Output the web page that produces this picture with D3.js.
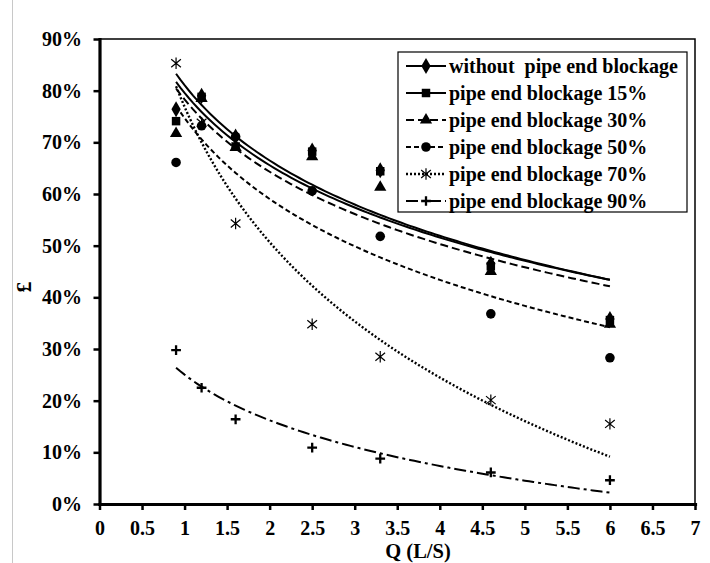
<!DOCTYPE html>
<html>
<head>
<meta charset="utf-8">
<script src="https://cdn.jsdelivr.net/npm/d3@7"></script>
<style>
  body { margin: 0; background: #fff; }
  text { font-family: "Liberation Serif", "Times New Roman", serif; font-weight: bold; fill: #000; }
</style>
</head>
<body>
<div id="chart"></div>
<script>
// flow rates (L/S) and efficiency values
const flowQ = [0.9, 1.2, 1.6, 2.5, 3.3, 4.6, 6];
const noBlockage = [0.764, 0.790, 0.711, 0.684, 0.646, 0.465, 0.358];
const blockage15 = [0.741, 0.788, 0.692, 0.682, 0.644, 0.460, 0.356];
const blockage30 = [0.717, 0.785, 0.690, 0.672, 0.613, 0.450, 0.348];
const blockage50 = [0.661, 0.732, 0.711, 0.606, 0.518, 0.368, 0.283];
const blockage70 = [0.853, 0.738, 0.543, 0.348, 0.285, 0.201, 0.155];
const blockage90 = [0.298, 0.225, 0.164, 0.109, 0.088, 0.061, 0.046];
const seriesNames = ['without  pipe end blockage', 'pipe end blockage 15%', 'pipe end blockage 30%',
  'pipe end blockage 50%', 'pipe end blockage 70%', 'pipe end blockage 90%'];
const xTicks = [0, 0.5, 1, 1.5, 2, 2.5, 3, 3.5, 4, 4.5, 5, 5.5, 6, 6.5, 7];
const yTicks = [0, 0.1, 0.2, 0.3, 0.4, 0.5, 0.6, 0.7, 0.8, 0.9];

const w = 710, h = 563;
const plotLeft = 99.5, plotRight = 695, plotTop = 39, plotBottom = 504;

// custom stroke symbols
const asterisk = {
  draw(ctx, size) {
    const r = Math.sqrt(size) / 2;
    ctx.moveTo(0, -r); ctx.lineTo(0, r);
    ctx.moveTo(-r * 0.85, -r * 0.7); ctx.lineTo(r * 0.85, r * 0.7);
    ctx.moveTo(-r * 0.85, r * 0.7); ctx.lineTo(r * 0.85, -r * 0.7);
  }
};
const plus = {
  draw(ctx, size) {
    const r = Math.sqrt(size) / 2;
    ctx.moveTo(0, -r); ctx.lineTo(0, r);
    ctx.moveTo(-r, 0); ctx.lineTo(r, 0);
  }
};

const styles = [
  { values: noBlockage, symbol: d3.symbolDiamond, size: 75, filled: true, dash: null, lw: 2 },
  { values: blockage15, symbol: d3.symbolSquare, size: 72, filled: true, dash: null, lw: 2 },
  { values: blockage30, symbol: d3.symbolTriangle, size: 65, filled: true, dash: '8,4', lw: 2 },
  { values: blockage50, symbol: d3.symbolCircle, size: 72, filled: true, dash: '5,3', lw: 2 },
  { values: blockage70, symbol: asterisk, size: 130, filled: false, dash: '2,2', lw: 2.4, sw: 1.2 },
  { values: blockage90, symbol: plus, size: 95, filled: false, dash: '12,4,3,4', lw: 2, sw: 2.3 }
];

const svg = d3.select('#chart').append('svg')
  .attr('width', w)
  .attr('height', h);

svg.append('rect').attr('width', w).attr('height', h).attr('fill', '#fff');
svg.append('line')
  .attr('x1', 12.5).attr('x2', 12.5).attr('y1', 0).attr('y2', h)
  .attr('stroke', '#c8c8c8').attr('stroke-width', 1);

const x = d3.scaleLinear().domain([0, 7]).range([plotLeft, plotRight]);
const y = d3.scaleLinear().domain([0, 0.9]).range([plotBottom, plotTop]);

// plot frame (top and right)
svg.append('path')
  .attr('d', `M${plotLeft},${plotTop}H${plotRight}V${plotBottom}`)
  .attr('fill', 'none')
  .attr('stroke', '#000')
  .attr('stroke-width', 1.5);

// log trendline, like the spreadsheet one: y = a + b ln(x)
function logFit(xs, ys) {
  const lx = xs.map(Math.log);
  const mx = d3.mean(lx), my = d3.mean(ys);
  const b = d3.sum(lx, (v, i) => (v - mx) * (ys[i] - my)) / d3.sum(lx, v => (v - mx) * (v - mx));
  const a = my - b * mx;
  return q => a + b * Math.log(q);
}

const line = d3.line().x(d => x(d[0])).y(d => y(d[1]));
const qSamples = d3.range(0.9, 6.0001, 0.05);

styles.forEach(s => {
  const f = logFit(flowQ, s.values);
  svg.append('path')
    .datum(qSamples.map(q => [q, f(q)]))
    .attr('d', line)
    .attr('fill', 'none')
    .attr('stroke', '#000')
    .attr('stroke-width', s.lw)
    .attr('stroke-dasharray', s.dash);
});

styles.forEach(s => {
  svg.append('g').selectAll('path')
    .data(s.values)
    .enter()
    .append('path')
    .attr('transform', (d, i) => `translate(${x(flowQ[i])},${y(d)})`)
    .attr('d', d3.symbol().type(s.symbol).size(s.size))
    .attr('fill', s.filled ? '#000' : 'none')
    .attr('stroke', s.filled ? 'none' : '#000')
    .attr('stroke-width', s.sw || 0);
});

// axes
const xAxis = d3.axisBottom(x).tickValues(xTicks).tickFormat(d => String(d))
  .tickSize(6).tickSizeOuter(0).tickPadding(11);
const yAxis = d3.axisLeft(y).tickValues(yTicks).tickFormat(d3.format('.0%'))
  .tickSize(6).tickSizeOuter(0).tickPadding(11.5);

const gx = svg.append('g')
  .attr('transform', 'translate(0,' + plotBottom + ')')
  .call(xAxis);
const gy = svg.append('g')
  .attr('transform', 'translate(' + plotLeft + ',0)')
  .call(yAxis);

[gx, gy].forEach(g => {
  g.select('.domain').attr('stroke-width', 3.2).attr('stroke-linecap', 'square');
  g.selectAll('.tick line').attr('stroke-width', 2.5);
  g.selectAll('.tick text')
    .attr('font-family', '"Liberation Serif", serif')
    .attr('font-weight', 'bold')
    .attr('font-size', 20);
});

svg.append('text')
  .text('Q (L/S)')
  .attr('x', 418)
  .attr('y', 558)
  .attr('text-anchor', 'middle')
  .attr('font-size', 20.5);

svg.append('text')
  .text('£')
  .attr('transform', 'translate(31,287) rotate(-90)')
  .attr('text-anchor', 'middle')
  .attr('font-size', 22);

// legend
const legend = svg.append('g');
legend.append('rect')
  .attr('x', 398).attr('y', 52)
  .attr('width', 289).attr('height', 160)
  .attr('fill', '#fff')
  .attr('stroke', '#000')
  .attr('stroke-width', 1.2);

styles.forEach((s, i) => {
  const ry = 66 + i * 27;
  legend.append('line')
    .attr('x1', 406).attr('x2', 446)
    .attr('y1', ry).attr('y2', ry)
    .attr('stroke', '#000')
    .attr('stroke-width', s.lw)
    .attr('stroke-dasharray', s.dash);
  legend.append('path')
    .attr('transform', `translate(426,${ry})`)
    .attr('d', d3.symbol().type(s.symbol).size(s.size))
    .attr('fill', s.filled ? '#000' : 'none')
    .attr('stroke', s.filled ? 'none' : '#000')
    .attr('stroke-width', s.sw || 0);
  legend.append('text')
    .text(seriesNames[i])
    .attr('x', 449)
    .attr('y', ry + 6.5)
    .attr('font-size', 20)
    .style('white-space', 'pre');
});
</script>
</body>
</html>
